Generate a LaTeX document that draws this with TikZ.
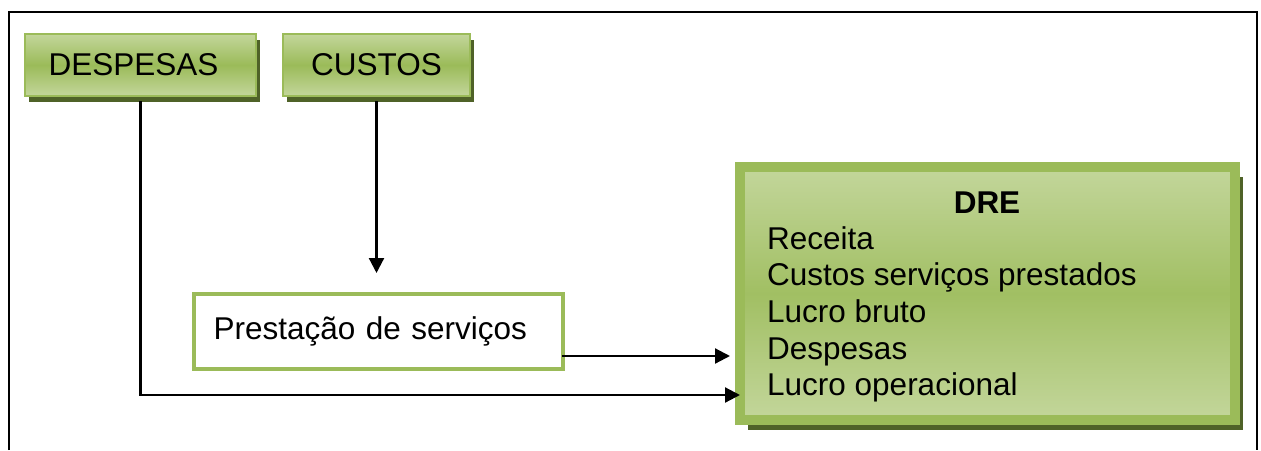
\documentclass[tikz,border=0pt]{standalone}
\usepackage{fontspec}
\setmainfont{Liberation Sans}
\usetikzlibrary{arrows.meta,shadows}

\definecolor{leafmid}{HTML}{9BBB59}
\definecolor{leaflight}{HTML}{C3D69B}
\definecolor{leafdark}{HTML}{4F6228}

\tikzset{
  greenbox/.style={
    rectangle, draw=leafmid, line width=2pt,
    top color=leaflight, bottom color=leaflight, middle color=leafmid,
    drop shadow={shadow xshift=4pt, shadow yshift=-6pt, fill=leafdark, opacity=1},
    font=\fontsize{31.5}{36.6}\selectfont, inner sep=0pt},
  whitebox/.style={
    rectangle, draw=leafmid, line width=4pt, fill=white,
    font=\fontsize{31.5}{36.6}\selectfont},
  dretext/.style={inner sep=0pt, font=\fontsize{31.5}{36.6}\selectfont},
  flow/.style={line width=2.2pt, -{Triangle[length=15pt,width=15pt]}},
  frame/.style={line width=2.4pt}
}

\begin{document}
\begin{tikzpicture}[x=1pt,y=-1pt]
  \useasboundingbox (0,0) rectangle (1261,450);

  % open frame around the sheet
  \draw[frame] (9,450) -- (9,12) -- (1257,12) -- (1257,450);

  % source boxes
  \node[greenbox, minimum width=231, minimum height=62] (desp) at (140.5,65) {DESPESAS\kern14pt};
  \node[greenbox, minimum width=187, minimum height=62] (cust) at (376.5,65) {CUSTOS};

  % service box
  \node[whitebox, minimum width=369, minimum height=75, text width=330, align=left,
        inner ysep=0pt] (prest) at (378.5,331.5) {Prestação de serviços\vphantom{p}\\[-4pt]};

  % income statement box
  \node[rectangle, draw=leafmid, line width=10pt,
        top color=leaflight, bottom color=leaflight, middle color=leafmid!85!leaflight,
        drop shadow={shadow xshift=8pt, shadow yshift=-10pt, fill=leafdark, opacity=1},
        minimum width=495, minimum height=253] (dre) at (987.5,293.5) {};
  \node[dretext, anchor=base] (dretitle) at (987,213) {\bfseries DRE};
  \node[dretext, anchor=base west, align=left] (dreitems) at (767,395.7)
    {Receita\\Custos serviços prestados\\Lucro bruto\\Despesas\\Lucro operacional};

  % connectors
  \coordinate (custtop) at ([shift={(0,4)}]cust.south);
  \coordinate (custend) at ([shift={(0,-19)}]prest.north);
  \draw[flow] (custtop) -- (custtop |- custend);

  \coordinate (prestout) at ([shift={(-3,24.5)}]prest.east);
  \draw[flow, shorten >=5pt] (prestout) -- (prestout -| dre.west);

  \coordinate (desptop) at ([shift={(0,4)}]desp.south);
  \coordinate (despend) at ([shift={(5,101.5)}]dre.west);
  \draw[flow] (desptop) |- (despend);
\end{tikzpicture}
\end{document}
